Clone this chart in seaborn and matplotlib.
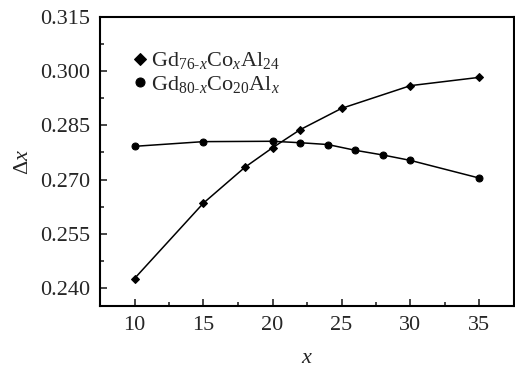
import matplotlib
matplotlib.use("Agg")
import matplotlib.pyplot as plt
import seaborn as sns
import pandas as pd
from matplotlib.ticker import MultipleLocator, FormatStrFormatter

# Data
x_co = [10, 15, 18, 20, 22, 25, 30, 35]
dx_co = [0.2426, 0.2635, 0.2734, 0.2788, 0.2838, 0.2897, 0.2960, 0.2983]
x_al = [10, 15, 20, 22, 24, 26, 28, 30, 35]
dx_al = [0.2792, 0.2805, 0.2806, 0.2802, 0.2797, 0.2781, 0.2768, 0.2753, 0.2704]
label_co = r"Gd$_{76\text{-}x}$Co$_{x}$Al$_{24}$"
label_al = r"Gd$_{80\text{-}x}$Co$_{20}$Al$_{x}$"

sns.set_theme(style="ticks")
plt.rcParams["font.family"] = ["Liberation Serif", "DejaVu Serif"]
plt.rcParams["mathtext.fontset"] = "custom"
plt.rcParams["mathtext.rm"] = "Liberation Serif"
plt.rcParams["mathtext.it"] = "Liberation Serif:italic"
plt.rcParams["mathtext.bf"] = "Liberation Serif:bold"

df_co = pd.DataFrame({"x": x_co, "dx": dx_co})
df_al = pd.DataFrame({"x": x_al, "dx": dx_al})

fig = plt.figure(figsize=(5.15, 3.69), dpi=100)
ax = fig.add_axes([100 / 515, 1 - 306 / 369, 414 / 515, 289 / 369])

sns.lineplot(data=df_co, x="x", y="dx", ax=ax, color="black", marker="D",
             markersize=4.5, markeredgecolor="black", linewidth=1.1, label=label_co)
sns.lineplot(data=df_al, x="x", y="dx", ax=ax, color="black", marker="o",
             markersize=5, markeredgecolor="black", linewidth=1.1, label=label_al)

ax.set_xlim(7.5, 37.5)
ax.set_ylim(0.235, 0.315)
ax.xaxis.set_major_locator(MultipleLocator(5))
ax.xaxis.set_minor_locator(MultipleLocator(2.5))
ax.yaxis.set_major_locator(MultipleLocator(0.015))
ax.yaxis.set_minor_locator(MultipleLocator(0.0075))
ax.yaxis.set_major_formatter(FormatStrFormatter("%.3f"))
ax.tick_params(which="both", direction="in", top=False, right=False, labelsize=16, width=1.2)
ax.tick_params(axis="y", pad=7)
ax.tick_params(axis="x", pad=7)
ax.tick_params(which="major", length=5)
ax.tick_params(which="minor", length=3)
for s in ax.spines.values():
    s.set_linewidth(1.5)
    s.set_color("black")

ax.set_xlabel(r"$x$", fontsize=16, labelpad=10)
ax.set_ylabel(r"$\Delta x$", fontsize=16, labelpad=5)

leg = ax.legend(loc="upper left", bbox_to_anchor=(0.075, 0.915), frameon=False,
                fontsize=16, handlelength=0, handletextpad=0.5, borderaxespad=0,
                labelspacing=0.1, markerscale=1.3)
for h in leg.legend_handles:
    h.set_linestyle("none")

fig.savefig("out.png", dpi=100)
